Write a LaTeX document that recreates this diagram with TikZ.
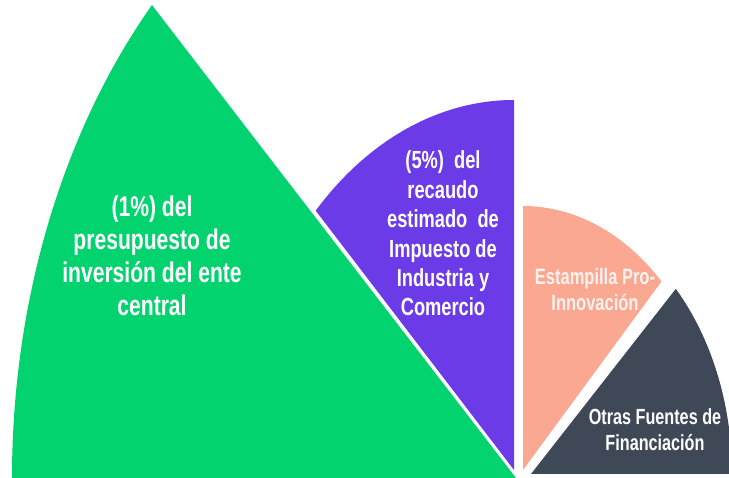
\documentclass[tikz,border=0pt]{standalone}
\usepackage{fontspec}
\newfontfamily\nb{Liberation Sans}[FakeStretch=0.74]
\definecolor{cgreen}{HTML}{02D36F}
\definecolor{cpurple}{HTML}{6A3BE6}
\definecolor{csalmon}{HTML}{FBA893}
\definecolor{cgray}{HTML}{3E4856}
\tikzset{lbl/.style={text=white, align=center, inner sep=0pt}}
\begin{document}
\begin{tikzpicture}[x=1pt,y=1pt]
\useasboundingbox (0,0) rectangle (729,478);
\clip (0,0) rectangle (729,478);
% sectors
\coordinate (cg) at (516,0);
\coordinate (cp) at (514,8);
\coordinate (cs) at (523,8);
\coordinate (cd) at (531,4);
\fill[cgreen] (cg) -- ++(136.25:504pt and 684pt)
  arc[start angle=136.25, end angle=180, x radius=504pt, y radius=684pt] -- cycle;
\fill[cpurple] (cp) -- ++(90:278pt and 370pt)
  arc[start angle=90, end angle=135.5, x radius=278pt, y radius=370pt] -- cycle;
\fill[csalmon] (cs) -- ++(45.6:198pt and 264pt)
  arc[start angle=45.6, end angle=90, x radius=198pt, y radius=264pt] -- cycle;
\fill[cgray] (cd) -- ++(0:201pt and 267pt)
  arc[start angle=0, end angle=43.9, x radius=201pt, y radius=267pt] -- cycle;
% labels
\node[lbl, font=\nb\bfseries\fontsize{28.5}{33}\selectfont] (tg) at (152,222)
  {(1\%) del\\presupuesto de\\inversión del ente\\central};
\node[lbl, font=\nb\bfseries\fontsize{24.7}{29.4}\selectfont] (tp) at (443,244.5)
  {(5\%)\ \ del\\recaudo\\estimado\ \ de\\Impuesto de\\Industria y\\Comercio};
\node[lbl, text=white!85!csalmon, font=\nb\bfseries\fontsize{22.3}{26}\selectfont] (ts) at (595,188)
  {Estampilla Pro-\\Innovación};
\node[lbl, font=\nb\bfseries\fontsize{21.9}{26}\selectfont] (td) at (655,48)
  {Otras Fuentes de\\Financiación};
\end{tikzpicture}
\end{document}
